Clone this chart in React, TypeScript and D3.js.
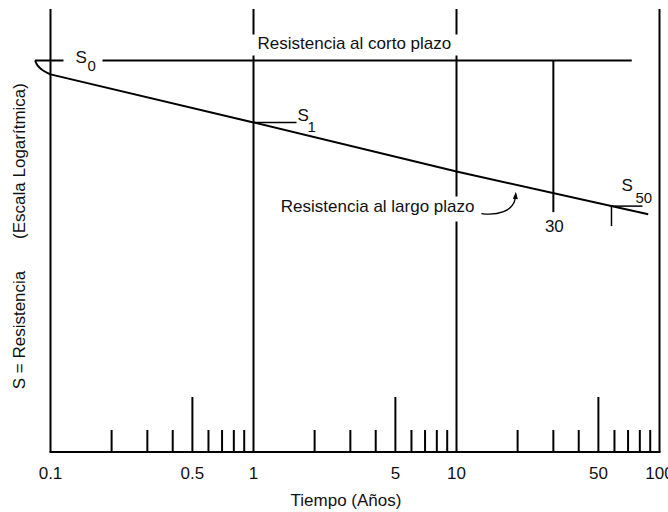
import React, { useEffect } from "react";
import * as d3 from "d3";

// time in years (log axis)
const majorLines = [1, 10];
const midTicks = [0.5, 5, 50];
const minorTicks = [
  0.2, 0.3, 0.4, 0.6, 0.7, 0.8, 0.9,
  2, 3, 4, 6, 7, 8, 9,
  20, 30, 40, 60, 70, 80, 90,
];
const tickLabels = [
  { t: 0.1, label: "0.1" },
  { t: 0.5, label: "0.5" },
  { t: 1, label: "1" },
  { t: 5, label: "5" },
  { t: 10, label: "10" },
  { t: 50, label: "50" },
  { t: 100, label: "100" },
];

// strength relative to short-term strength S0 (log scale)
const shortTerm = 1.0;
const shortTermSpan = [0.084, 73];
const hookT = [0.084, 0.0865, 0.0915, 0.1];
const hookS = [1.0, 0.982, 0.966, 0.952];
const longTermT = [0.1, 1, 10, 88];
const longTermS = [0.952, 0.803, 0.675, 0.58];

const s30Time = 30;
const s50Time = 58;
const arrowTime = 19.5;

const W = 668;
const H = 512;

const App: React.FC = () => {
  useEffect(() => {
    document.body.style.margin = "0";
  }, []);

  const x = d3.scaleLog().domain([0.1, 100]).range([50.5, 659.5]);
  const y = d3.scaleLog().domain([0.25, 1.2]).range([452, 9]);

  const hook = hookT.map((t, i) => ({ t, s: hookS[i] }));
  const pts = longTermT.map((t, i) => ({ t, s: longTermS[i] }));
  // interpolate the long-term line in log-log space
  const sAt = (t: number) => {
    const lt = Math.log10(t);
    for (let i = 1; i < pts.length; i++) {
      if (t <= pts[i].t || i === pts.length - 1) {
        const a = pts[i - 1], b = pts[i];
        const f = (lt - Math.log10(a.t)) / (Math.log10(b.t) - Math.log10(a.t));
        return Math.pow(10, Math.log10(a.s) + f * (Math.log10(b.s) - Math.log10(a.s)));
      }
    }
    return pts[pts.length - 1].s;
  };

  const hookLine = d3
    .line<{ t: number; s: number }>()
    .x((d) => x(d.t))
    .y((d) => y(d.s))
    .curve(d3.curveMonotoneY);
  const line = d3
    .line<{ t: number; s: number }>()
    .x((d) => x(d.t))
    .y((d) => y(d.s));

  const x0 = x(0.1);
  const x100 = x(100);
  const yTop = y(1.2);
  const yBot = y(0.25);
  const yS0 = y(shortTerm);

  const font = "'Liberation Sans', Arial, Helvetica, sans-serif";
  const stroke = "#000";
  const sw = 2;

  const x1 = x(1), y1 = y(sAt(1));
  const x30 = x(s30Time), y30 = y(sAt(s30Time));
  const x50 = x(s50Time), y50 = y(sAt(s50Time));
  const xa = x(arrowTime), ya = y(sAt(arrowTime)) + 9;

  return (
    <svg width={W} height={H} style={{ display: "block", background: "#fff" }} fontFamily={font}>
      <rect width={W} height={H} fill="#fff" />

      {/* frame: left axis, bottom axis, right edge at 100 */}
      <line x1={x0} x2={x0} y1={yTop} y2={yBot} stroke={stroke} strokeWidth={sw} />
      <line x1={x100} x2={x100} y1={yTop} y2={yBot} stroke={stroke} strokeWidth={sw} />
      <line x1={x0 - 1} x2={x100 + 1} y1={yBot} y2={yBot} stroke={stroke} strokeWidth={sw} />

      {/* decade lines */}
      {majorLines.map((t) => (
        <line key={t} x1={x(t)} x2={x(t)} y1={yTop} y2={yBot} stroke={stroke} strokeWidth={sw} />
      ))}

      {/* ticks */}
      {minorTicks.map((t) => (
        <line key={"m" + t} x1={x(t)} x2={x(t)} y1={yBot} y2={yBot - 22} stroke={stroke} strokeWidth={sw} />
      ))}
      {midTicks.map((t) => (
        <line key={"h" + t} x1={x(t)} x2={x(t)} y1={yBot} y2={yBot - 55} stroke={stroke} strokeWidth={sw} />
      ))}

      {/* short-term strength */}
      <line x1={x(shortTermSpan[0])} x2={x(shortTermSpan[1])} y1={yS0} y2={yS0} stroke={stroke} strokeWidth={sw} />
      {/* 30 year drop line */}
      <line x1={x30} x2={x30} y1={yS0} y2={y30 + 19} stroke={stroke} strokeWidth={sw} />

      {/* long-term strength */}
      <path d={hookLine(hook) || ""} fill="none" stroke={stroke} strokeWidth={sw} />
      <path d={line(pts) || ""} fill="none" stroke={stroke} strokeWidth={sw} />

      {/* S1 leader */}
      <line x1={x1} x2={x1 + 43} y1={y1} y2={y1} stroke={stroke} strokeWidth={1.5} />
      {/* S50 leader */}
      <line x1={x50} x2={x50 + 31} y1={y50} y2={y50} stroke={stroke} strokeWidth={1.5} />
      <line x1={x50} x2={x50} y1={y50} y2={y50 + 20} stroke={stroke} strokeWidth={1.5} />

      {/* label backgrounds */}
      <rect x={x1 - 4} y={yS0 - 26} width={212} height={21} fill="#fff" />
      <rect x={x(10) - 182} y={y(sAt(10)) + 25} width={206} height={25} fill="#fff" />
      <rect x={x0 + 13} y={yS0 - 12} width={39} height={24} fill="#fff" />

      {/* texts */}
      <g fontSize={17} fill="#111">
        <text x={x1 + 4} y={yS0 - 11}>Resistencia al corto plazo</text>
        <text x={x(10) + 18} y={y(sAt(10)) + 41} textAnchor="end">Resistencia al largo plazo</text>

        <text x={x0 + 25} y={yS0 + 3}>S</text>
        <text x={x0 + 37} y={yS0 + 11} fontSize={15}>0</text>

        <text x={x1 + 44} y={y1 - 1}>S</text>
        <text x={x1 + 54} y={y1 + 10} fontSize={15}>1</text>

        <text x={x50 + 10} y={y50 - 15}>S</text>
        <text x={x50 + 24} y={y50 - 3} fontSize={15}>50</text>

        <text x={x30 + 1} y={y30 + 39} textAnchor="middle">30</text>

        {tickLabels.map((d) => (
          <text key={d.label} x={x(d.t)} y={479} textAnchor="middle">{d.label}</text>
        ))}

        <text x={346} y={506} textAnchor="middle">Tiempo (Años)</text>

        <text transform="translate(25,161) rotate(-90)" textAnchor="middle">(Escala Logarítmica)</text>
        <text transform="translate(25,330) rotate(-90)" textAnchor="middle">S = Resistencia</text>
      </g>

      {/* arrow pointing to the long-term line */}
      <path
        d={`M${xa - 34},${ya + 20} C${xa - 18},${ya + 22} ${xa - 2},${ya + 18} ${xa},${ya + 4}`}
        fill="none"
        stroke={stroke}
        strokeWidth={1.3}
      />
      <path d={`M${xa - 2.5},${ya + 5} L${xa + 0.5},${ya - 2} L${xa + 2.5},${ya + 5.5} Z`} fill={stroke} />
    </svg>
  );
};

export default App;
